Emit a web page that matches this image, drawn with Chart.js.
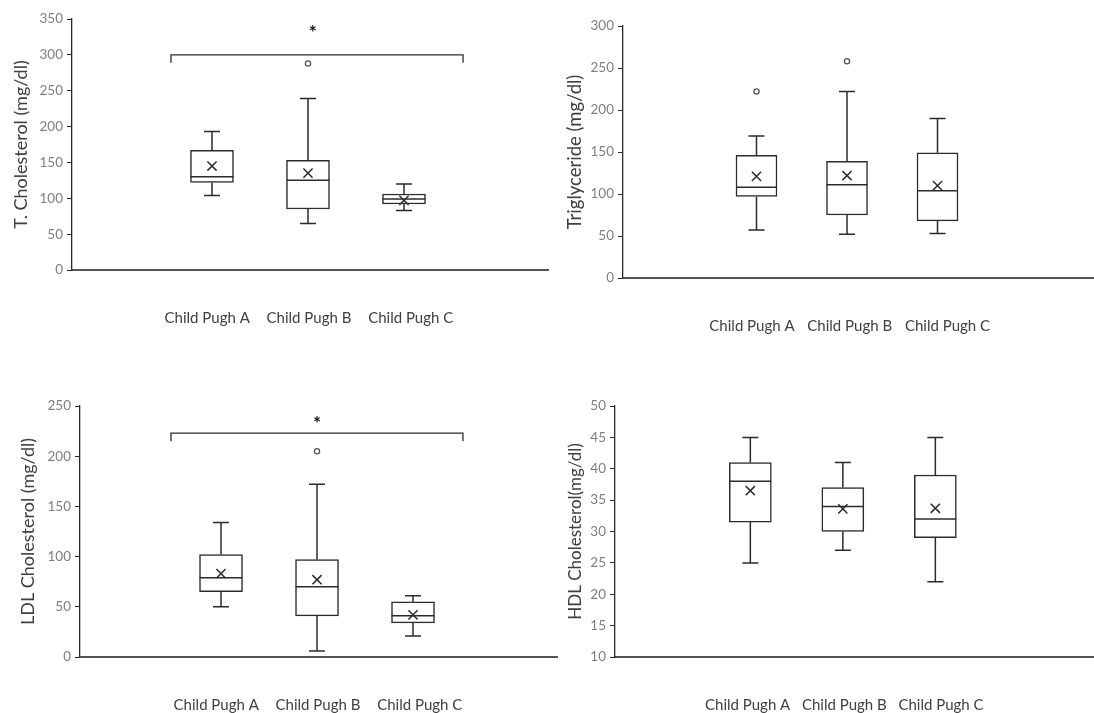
<!DOCTYPE html>
<html lang="en">
<head>
  <meta charset="UTF-8">
  <title>Lipid profile by Child Pugh class</title>
  <script src="https://cdn.jsdelivr.net/npm/chart.js"></script>
  <style>
    body {
      margin: 0;
      background: #fff;
    }
    #wrap {
      position: relative;
      width: 1094px;
      height: 713px;
      overflow: hidden;
    }
    canvas {
      position: absolute;
    }
  </style>
</head>
<body>
  <div id="wrap">
    <canvas id="tcChart" width="575" height="345" style="left:0;top:0;width:575px;height:345px"></canvas>
    <canvas id="tgChart" width="575" height="345" style="left:540px;top:0;width:575px;height:345px"></canvas>
    <canvas id="ldlChart" width="575" height="333" style="left:0;top:380px;width:575px;height:333px"></canvas>
    <canvas id="hdlChart" width="575" height="333" style="left:540px;top:380px;width:575px;height:333px"></canvas>
  </div>

  <script>
    const categories = ["Child Pugh A", "Child Pugh B", "Child Pugh C"];

    // each row: [min, q1, median, q3, max]
    const tcBoxes = [[104, 122, 130, 167, 193], [65, 85, 125, 153, 239], [83, 92, 99, 106, 120]];
    const tcMeans = [145, 135, 97];
    const tcOutliers = [null, 288, null];

    const tgBoxes = [[57, 97, 108, 146, 169], [52, 75, 111, 139, 222], [53, 68, 104, 149, 190]];
    const tgMeans = [121, 122, 110];
    const tgOutliers = [222, 258, null];

    const ldlBoxes = [[50, 65, 79, 102, 134], [6, 41, 70, 97, 172], [21, 34, 41, 55, 61]];
    const ldlMeans = [83, 77, 42];
    const ldlOutliers = [null, 205, null];

    const hdlBoxes = [[25, 31.5, 38, 41, 45], [27, 30, 34, 37, 41], [22, 29, 32, 39, 45]];
    const hdlMeans = [36.5, 33.6, 33.7];
    const hdlOutliers = [null, null, null];

    const ink = "#2b2b2b";
    const font = "Lato, 'Open Sans', sans-serif";

    // whiskers, caps, medians and the significance bracket
    const boxPlugin = {
      id: "boxExtras",
      afterDatasetsDraw(chart) {
        const p = chart.options.plugins.boxExtras;
        const xs = chart.scales.x, ys = chart.scales.y;
        const ctx = chart.ctx;
        ctx.save();
        ctx.strokeStyle = ink;
        ctx.lineWidth = 1.5;
        p.boxes.forEach((b, i) => {
          const x = xs.getPixelForValue(i + 1);
          const [mn, q1, med, q3, mx] = b.map(v => ys.getPixelForValue(v));
          const half = p.boxWidth / 2, cap = 8;
          ctx.beginPath();
          ctx.moveTo(x, q3); ctx.lineTo(x, mx);
          ctx.moveTo(x, q1); ctx.lineTo(x, mn);
          ctx.moveTo(x - cap, mx); ctx.lineTo(x + cap, mx);
          ctx.moveTo(x - cap, mn); ctx.lineTo(x + cap, mn);
          ctx.moveTo(x - half, med); ctx.lineTo(x + half, med);
          ctx.stroke();
        });
        if (p.sig) {
          const s = p.sig;
          const x1 = xs.getPixelForValue(s.from), x2 = xs.getPixelForValue(s.to);
          const y1 = ys.getPixelForValue(s.y), y2 = ys.getPixelForValue(s.y - s.drop);
          ctx.lineWidth = 1.3;
          ctx.beginPath();
          ctx.moveTo(x1, y2); ctx.lineTo(x1, y1); ctx.lineTo(x2, y1); ctx.lineTo(x2, y2);
          ctx.stroke();
          ctx.fillStyle = "#111";
          ctx.font = "bold 19px " + font;
          ctx.textAlign = "center";
          ctx.textBaseline = "middle";
          ctx.fillText("*", xs.getPixelForValue(s.starX), ys.getPixelForValue(s.starY));
        }
        ctx.restore();
      }
    };

    function makePanel(id, boxes, means, outliers, opt) {
      const canvas = document.getElementById(id);
      const W = canvas.width, H = canvas.height;
      new Chart(canvas, {
        type: "bar",
        data: {
          datasets: [
            {
              type: "line",
              data: means.map((v, i) => ({ x: i + 1, y: v })),
              showLine: false,
              pointStyle: "crossRot",
              pointRadius: 6.5,
              borderColor: ink,
              borderWidth: 1.5
            },
            {
              type: "line",
              data: outliers.map((v, i) => ({ x: i + 1, y: v })),
              showLine: false,
              pointStyle: "circle",
              pointRadius: 2.6,
              backgroundColor: "#fff",
              borderColor: "#555",
              borderWidth: 1.3
            },
            {
              data: boxes.map((b, i) => ({ x: i + 1, y: [b[1], b[3]] })),
              backgroundColor: "#fff",
              borderColor: ink,
              borderWidth: 1.5,
              borderSkipped: false,
              barThickness: opt.boxWidth
            }
          ]
        },
        options: {
          responsive: false,
          animation: false,
          events: [],
          layout: {
            padding: { left: 0, top: opt.top, right: W - opt.right, bottom: 0 }
          },
          scales: {
            x: {
              type: "linear",
              offset: false,
              min: opt.xMin,
              max: opt.xMax,
              // category labels sit a little wider apart than the boxes
              afterBuildTicks: s => {
                s.ticks = categories.map((c, i) => ({ value: opt.labelMid + (i - 1) * opt.labelGap }));
              },
              afterFit: s => { s.height = H - opt.bottom; },
              ticks: {
                callback: (v, i) => categories[i],
                color: "#404040",
                padding: 39,
                maxRotation: 0,
                autoSkip: false,
                font: { family: font, size: 15 }
              },
              grid: { display: true, drawOnChartArea: false, drawTicks: false },
              border: { color: "#555", width: 2 }
            },
            y: {
              min: opt.yMin,
              max: opt.yMax,
              afterFit: s => { s.width = opt.left; },
              ticks: {
                stepSize: opt.step,
                color: "#7f7f7f",
                padding: 4,
                font: { family: font, size: 13.5 }
              },
              grid: { drawOnChartArea: false, drawTicks: true, tickLength: 5, color: ink },
              border: { color: ink, width: 1.3 },
              title: {
                display: true,
                text: opt.title,
                color: "#404040",
                padding: { top: opt.titlePad, bottom: 0 },
                font: { family: font, size: opt.titleSize }
              }
            }
          },
          plugins: {
            legend: { display: false },
            tooltip: { enabled: false },
            boxExtras: { boxes: boxes, boxWidth: opt.boxWidth, sig: opt.sig }
          }
        },
        plugins: [boxPlugin]
      });
    }

    makePanel("tcChart", tcBoxes, tcMeans, tcOutliers, {
      left: 72, top: 19, right: 548, bottom: 270,
      xMin: -0.458, xMax: 4.5, yMin: 0, yMax: 350, step: 50,
      labelMid: 2.01, labelGap: 1.06,
      boxWidth: 43, title: "T. Cholesterol (mg/dl)", titleSize: 18, titlePad: 10,
      sig: { from: 0.573, to: 3.615, y: 300, drop: 11, starX: 2.05, starY: 331 }
    });

    makePanel("tgChart", tgBoxes, tgMeans, tgOutliers, {
      left: 83, top: 26, right: 554, bottom: 278,
      xMin: -0.475, xMax: 4.729, yMin: 0, yMax: 300, step: 50,
      labelMid: 2.03, labelGap: 1.08,
      boxWidth: 41, title: "Triglyceride (mg/dl)", titleSize: 18.5, titlePad: 24
    });

    makePanel("ldlChart", ldlBoxes, ldlMeans, ldlOutliers, {
      left: 80, top: 26, right: 557, bottom: 277,
      xMin: -0.469, xMax: 4.5, yMin: 0, yMax: 250, step: 50,
      labelMid: 2.01, labelGap: 1.06,
      boxWidth: 43, title: "LDL Cholesterol (mg/dl)", titleSize: 18, titlePad: 17,
      sig: { from: 0.479, to: 3.52, y: 223, drop: 8, starX: 2.0, starY: 232 }
    });

    makePanel("hdlChart", hdlBoxes, hdlMeans, hdlOutliers, {
      left: 75, top: 26, right: 554, bottom: 277,
      xMin: -0.463, xMax: 4.715, yMin: 10, yMax: 50, step: 5,
      labelMid: 2.016, labelGap: 1.045,
      boxWidth: 42, title: "HDL Cholesterol(mg/dl)", titleSize: 17, titlePad: 25
    });
  </script>
</body>
</html>
